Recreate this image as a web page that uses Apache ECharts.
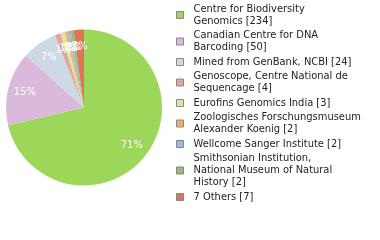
<!DOCTYPE html>
<html><head><meta charset="utf-8">
<script src="https://cdn.jsdelivr.net/npm/echarts@6/dist/echarts.min.js"></script>
<style>html,body{margin:0;padding:0;background:#fff}#c{width:380px;height:240px}</style>
</head><body><div id="c"></div>
<script>
const names = ["Centre for Biodiversity\nGenomics [234]", "Canadian Centre for DNA\nBarcoding [50]", "Mined from GenBank, NCBI [24]", "Genoscope, Centre National de\nSequencage [4]", "Eurofins Genomics India [3]", "Zoologisches Forschungsmuseum\nAlexander Koenig [2]", "Wellcome Sanger Institute [2]", "Smithsonian Institution,\nNational Museum of Natural\nHistory [2]", "7 Others [7]"];
const values = [234, 50, 24, 4, 3, 2, 2, 2, 7];
const colors = ["#9dd75a", "#dbb9dc", "#cddae6", "#e0a59b", "#dde49c", "#f0ac6c", "#98b9e0", "#92c070", "#e07358"];
const total = values.reduce((a, b) => a + b, 0);
const data = names.map((n, i) => ({ name: n, value: values[i], itemStyle: { color: colors[i] } }));
const chart = echarts.init(document.getElementById('c'), null, { renderer: 'canvas' });
chart.setOption({
  animation: false,
  legend: {
    orient: 'vertical', left: 176, top: 3, padding: 0, itemWidth: 7, itemHeight: 7, itemGap: 2.5,
    icon: 'rect',
    itemStyle: { borderColor: '#888', borderWidth: 1 },
    textStyle: { fontFamily: 'DejaVu Sans Condensed', fontSize: 11, lineHeight: 12, color: '#222', align: 'left', padding: [0, 0, 0, 5] },
    data: names, selectedMode: false
  },
  series: [
    {
      type: 'pie', center: [84, 107.5], radius: [0, 78], startAngle: 90, clockwise: true,
      label: { show: false }, labelLine: { show: false }, silent: true,
      itemStyle: { borderWidth: 0 },
      data: data
    },
    {
      type: 'pie', center: [84, 107.5], radius: [38, 78], startAngle: 90, clockwise: true, silent: true,
      avoidLabelOverlap: false,
      labelLayout: { hideOverlap: false },
      itemStyle: { color: 'rgba(0,0,0,0)', borderWidth: 0 },
      label: { show: true, position: 'inside', color: '#fff', fontFamily: 'DejaVu Sans', fontSize: 10,
        formatter: p => Math.round(p.value / total * 100) + '%' },
      labelLine: { show: false },
      data: names.map((n, i) => ({ name: n, value: values[i] }))
    }
  ]
});
</script></body></html>
